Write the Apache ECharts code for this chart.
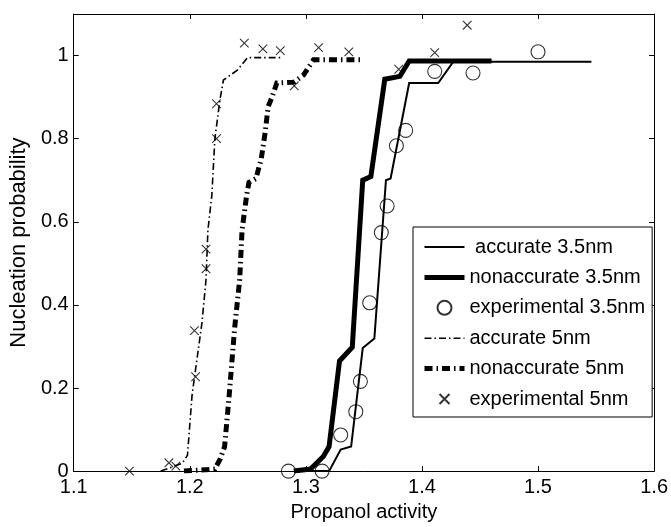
<!DOCTYPE html>
<html>
<head>
<meta charset="utf-8">
<script src="https://cdn.jsdelivr.net/npm/echarts@6/dist/echarts.min.js"></script>
<style>
  html, body { margin: 0; padding: 0; background: #fff; }
  #chart { width: 671px; height: 527px; }
</style>
</head>
<body>
<div id="chart"></div>
<script>
// Nucleation probability versus propanol activity: model curves and measurements
const FONT = "'Liberation Sans', Arial, Helvetica, sans-serif";

const xTickLabels = ['1.1', '1.2', '1.3', '1.4', '1.5', '1.6'];
const yTickLabels = ['0', '0.2', '0.4', '0.6', '0.8', '1'];

const seriesNames = [' accurate 3.5nm', 'nonaccurate 3.5nm', 'experimental 3.5nm',
                     'accurate 5nm', 'nonaccurate 5nm', 'experimental 5nm'];

// [activity, probability]
const accurate35 = [
  [1.290, 0], [1.320, 0], [1.330, 0.052], [1.339, 0.059], [1.349, 0.296], [1.359, 0.319],
  [1.369, 0.700], [1.373, 0.704], [1.389, 0.934], [1.414, 0.934], [1.427, 0.985], [1.546, 0.985]
];
const nonaccurate35 = [
  [1.2896, 0], [1.304, 0.005], [1.315, 0.035], [1.320, 0.059], [1.329, 0.265], [1.340, 0.298],
  [1.349, 0.700], [1.356, 0.709], [1.368, 0.943], [1.381, 0.950], [1.389, 0.987], [1.460, 0.987]
];
const experimental35 = [
  [1.285, 0], [1.314, 0], [1.330, 0.087], [1.343, 0.143], [1.347, 0.216], [1.355, 0.405],
  [1.365, 0.574], [1.370, 0.638], [1.378, 0.783], [1.386, 0.820], [1.411, 0.962],
  [1.444, 0.958], [1.500, 1.009]
];
const accurate5 = [
  [1.175, 0], [1.1935, 0.019], [1.198, 0.038], [1.202, 0.184], [1.2105, 0.357], [1.214, 0.461],
  [1.2156, 0.579], [1.219, 0.664], [1.2216, 0.799], [1.226, 0.894], [1.229, 0.941],
  [1.241, 0.965], [1.2497, 0.995], [1.2786, 0.995]
];
const nonaccurate5 = [
  [1.195, 0], [1.2216, 0.005], [1.226, 0.028], [1.230, 0.059], [1.234, 0.184], [1.2386, 0.343],
  [1.243, 0.461], [1.245, 0.579], [1.249, 0.664], [1.251, 0.695], [1.257, 0.704],
  [1.2616, 0.752], [1.265, 0.816], [1.2675, 0.877], [1.271, 0.901], [1.275, 0.934],
  [1.2896, 0.936], [1.298, 0.953], [1.3066, 0.990], [1.347, 0.990]
];
const experimental5 = [
  [1.148, 0], [1.182, 0.020], [1.188, 0.012], [1.205, 0.227], [1.204, 0.338], [1.214, 0.487],
  [1.214, 0.534], [1.223, 0.800], [1.223, 0.884], [1.247, 1.030], [1.263, 1.016],
  [1.278, 1.012], [1.290, 0.927], [1.311, 1.019], [1.337, 1.009], [1.380, 0.967],
  [1.411, 1.007], [1.439, 1.073]
];

const INK = '#000';
const CROSS = 'path://M0,0M14,14M2,2L12,12M12,2L2,12';
const THIN_DASHDOT = [7, 3, 1.5, 3];
const THICK_DASHDOT = [8, 4, 1.5, 4];

function curve(name, data, width, dash) {
  return {
    name: name, type: 'line', data: data, symbol: 'none', showSymbol: false,
    animation: false, silent: true,
    lineStyle: { color: INK, width: width, type: dash || 'solid', cap: 'butt', join: 'miter' },
    itemStyle: { color: INK }
  };
}
function points(name, data, symbol, size) {
  return {
    name: name, type: 'scatter', data: data, symbol: symbol, symbolSize: size,
    animation: false, silent: true,
    itemStyle: { color: 'rgba(0,0,0,0)', borderColor: INK, borderWidth: 1.1 }
  };
}
function lineKey(name, width, dash) {
  return {
    name: name, itemStyle: { opacity: 0 },
    lineStyle: { color: INK, width: width, type: dash || 'solid', cap: 'butt' }
  };
}

const tickStyle = { show: true, inside: true, length: 5, lineStyle: { color: INK, width: 1 } };
const lineStyle = { show: true, onZero: false, lineStyle: { color: INK, width: 1 } };
const labelFont = { color: INK, fontFamily: FONT, fontSize: 20 };

const chart = echarts.init(document.getElementById('chart'), null, { renderer: 'canvas' });
chart.setOption({
  backgroundColor: '#fff',
  animation: false,
  grid: { left: 67, right: 16, top: 14, bottom: 49, containLabel: false },
  xAxis: [
    {
      type: 'value', min: 1.1, max: 1.6, interval: 0.1,
      axisLine: lineStyle, axisTick: tickStyle, splitLine: { show: false },
      axisLabel: Object.assign({ margin: 6,
        formatter: v => xTickLabels[Math.round((v - 1.1) * 10)] || '' }, labelFont),
      name: 'Propanol activity', nameLocation: 'middle', nameGap: 29,
      nameTextStyle: { color: INK, fontFamily: FONT, fontSize: 20 }
    },
    {
      type: 'value', position: 'top', min: 1.1, max: 1.6, interval: 0.1,
      axisLine: lineStyle, axisTick: tickStyle, axisLabel: { show: false }, splitLine: { show: false }
    }
  ],
  yAxis: [
    {
      type: 'value', min: 0, max: 1.1, interval: 0.2,
      axisLine: lineStyle, axisTick: tickStyle, splitLine: { show: false },
      axisLabel: Object.assign({ margin: 5,
        formatter: v => {
          const i = Math.round(v * 5);
          return Math.abs(v * 5 - i) < 1e-6 ? (yTickLabels[i] || '') : '';
        } }, labelFont),
      name: 'Nucleation probability', nameLocation: 'middle', nameGap: 38,
      nameTextStyle: { color: INK, fontFamily: FONT, fontSize: 22 }
    },
    {
      type: 'value', position: 'right', min: 0, max: 1.1, interval: 0.2,
      axisLine: lineStyle, axisTick: tickStyle, axisLabel: { show: false }, splitLine: { show: false }
    }
  ],
  legend: {
    orient: 'vertical', left: 413, top: 227,
    itemWidth: 40, itemHeight: 14, itemGap: 10.4,
    padding: [10, 7, 8, 9],
    backgroundColor: '#fff', borderColor: INK, borderWidth: 1, borderRadius: 0,
    textStyle: { color: INK, fontFamily: FONT, fontSize: 20, lineHeight: 20 },
    selectedMode: false,
    data: [
      lineKey(seriesNames[0], 2),
      lineKey(seriesNames[1], 5),
      { name: seriesNames[2] },
      lineKey(seriesNames[3], 1.6, THIN_DASHDOT),
      lineKey(seriesNames[4], 5, THICK_DASHDOT),
      { name: seriesNames[5] }
    ]
  },
  series: [
    curve(seriesNames[0], accurate35, 2),
    curve(seriesNames[1], nonaccurate35, 5),
    points(seriesNames[2], experimental35, 'circle', 14),
    curve(seriesNames[3], accurate5, 1.6, THIN_DASHDOT),
    curve(seriesNames[4], nonaccurate5, 5, THICK_DASHDOT),
    points(seriesNames[5], experimental5, CROSS, 12)
  ]
});
</script>
</body>
</html>
